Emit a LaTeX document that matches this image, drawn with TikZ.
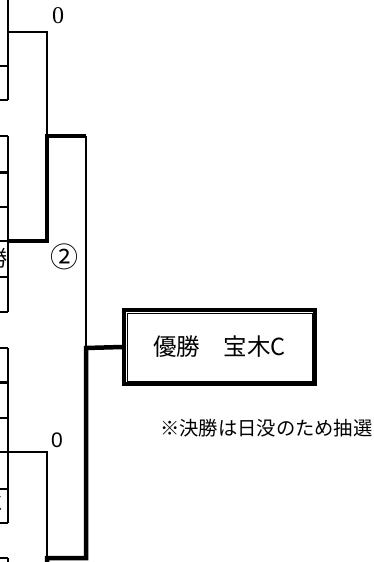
\documentclass[tikz,border=0pt]{standalone}
\usepackage{fontspec}
\newfontfamily\jpfont{Noto Sans CJK JP}
\newfontfamily\sansfont{Liberation Sans}
\newfontfamily\seriffont{Liberation Serif}
\usetikzlibrary{positioning}

\tikzset{
	thinline/.style={line width=1.6pt},
	winline/.style={line width=4.5pt},
	score/.style={inner sep=0pt},
	team/.style={anchor=east, inner sep=0pt, font=\jpfont\fontsize{22}{22}\selectfont},
}

\begin{document}
\begin{tikzpicture}[x=1pt, y=-1pt]
	\useasboundingbox (0,0) rectangle (374,562);
	\clip (0,0) rectangle (374,562);
	% cells of the team table, cut at the left edge
	\foreach \top/\bot in {-80/100, 136/312, 348/523, 558/600} {\draw[thinline] (8,\top) -- (8,\bot);}
	\foreach \y in {66,100,136,207,241,277,312,348,418,452,489,523,558} {\draw[thinline] (-5,\y) -- (8,\y);}
	\foreach \y in {172,382} {\draw[line width=3pt] (-5,\y) -- (8,\y);}
	\node[team] (w1) at (8,258) {勝};
	\node[team] (w2) at (3,503) {C};
	% bracket
	\coordinate (a1) at (8,32);
	\coordinate (a2) at (8,241);
	\coordinate (a3) at (8,452);
	\coordinate (a4) at (47,580);
	\coordinate (m1) at (47,136);
	\coordinate (m2) at (47,558);
	\coordinate (f) at (86,348);
	\node[draw, line width=4pt, minimum width=191pt, minimum height=74pt, inner sep=0pt,
		font=\jpfont\fontsize{23.5}{23.5}\selectfont] (champ) at (219.5,347) {優勝　宝木C};
	\draw[line width=1pt] ([shift={(5,5)}]champ.north west) rectangle ([shift={(-5,-5)}]champ.south east);
	\draw[thinline] (a1) -| (m1);
	\draw[thinline] (a3) -| (m2);
	\draw[thinline] (m1 -| f) -- (f);
	\draw[winline] (a2) -| (m1) -- (m1 -| f);
	\draw[winline] (a4) -- (m2) -| (f) -- (champ.west);
	% scores and note
	\node[score, font=\seriffont\fontsize{24}{24}\selectfont] (s1) at (58,16) {0};
	\node[score, font=\jpfont\fontsize{28}{28}\selectfont] (s2) at (64,257) {②};
	\node[score, font=\sansfont\fontsize{21}{21}\selectfont] (s3) at (57,440) {0};
	\node[anchor=west, inner sep=0pt, font=\jpfont\fontsize{19.3}{19.3}\selectfont] (note) at (160,428) {※決勝は日没のため抽選};
\end{tikzpicture}
\end{document}
